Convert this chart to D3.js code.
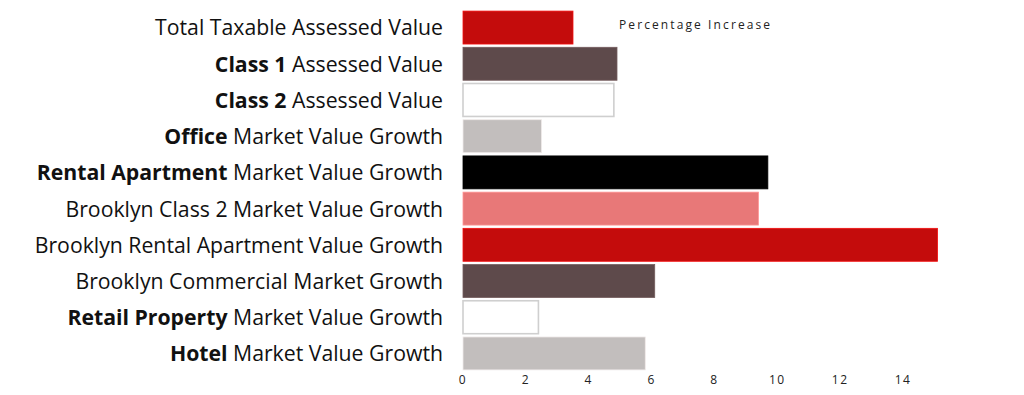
<!DOCTYPE html>
<html>
<head>
<meta charset="utf-8">
<script src="https://cdn.jsdelivr.net/npm/d3@7"></script>
<style>
  body { margin: 0; background: #fff; }
  svg text { font-family: "Open Sans", "Noto Sans", sans-serif; }
</style>
</head>
<body>
<svg id="chart" width="1024" height="395"></svg>
<script>
// bold part / regular part of each category label
const boldParts = ["", "Class 1", "Class 2", "Office", "Rental Apartment", "", "", "", "Retail Property", "Hotel"];
const plainParts = [
  "Total Taxable Assessed Value",
  "Assessed Value",
  "Assessed Value",
  "Market Value Growth",
  "Market Value Growth",
  "Brooklyn Class 2 Market Value Growth",
  "Brooklyn Rental Apartment Value Growth",
  "Brooklyn Commercial Market Growth",
  "Market Value Growth",
  "Market Value Growth"
];
const values = [3.5, 4.9, 4.8, 2.5, 9.7, 9.4, 15.1, 6.1, 2.4, 5.8];
const barColors = ["#c40c0c", "#5e4a4b", "#ffffff", "#c2bebd", "#000000", "#e87878", "#c40c0c", "#5e4a4b", "#ffffff", "#c2bebd"];
const ticks = [0, 2, 4, 6, 8, 10, 12, 14];
const axisTitle = "Percentage Increase";

const svg = d3.select("#chart");
const ids = d3.range(values.length);

const x = d3.scaleLinear().domain([0, 14]).range([463, 903]);
const y = d3.scaleBand().domain(ids).range([10, 371]).paddingInner(0.09).paddingOuter(0.03);

svg.append("g")
  .selectAll("rect")
  .data(ids)
  .join("rect")
  .attr("x", x(0))
  .attr("y", (i) => y(i))
  .attr("width", (i) => x(values[i]) - x(0))
  .attr("height", y.bandwidth())
  .attr("fill", (i) => barColors[i])
  .attr("stroke", (i) => barColors[i] === "#ffffff" ? "#cfcfcf" : d3.color(barColors[i]).brighter(0.6))
  .attr("stroke-width", (i) => barColors[i] === "#ffffff" ? 1.6 : 0.8);

// category labels
const labels = svg.append("g")
  .selectAll("text")
  .data(ids)
  .join("text")
  .attr("x", 443)
  .attr("y", (i) => y(i) + y.bandwidth() / 2)
  .attr("dy", "0.36em")
  .attr("text-anchor", "end")
  .attr("font-size", 22)
  .attr("fill", "#111");

labels.each(function (i) {
  const t = d3.select(this);
  if (boldParts[i]) {
    t.append("tspan").attr("font-weight", 700).text(boldParts[i] + " ");
  }
  t.append("tspan").text(plainParts[i]);
});
// squeeze to the narrower type of the original
labels.attr("transform", "translate(443,0) scale(0.966,1) translate(-443,0)");

// x axis tick labels
svg.append("g")
  .selectAll("text")
  .data(ticks)
  .join("text")
  .attr("x", (d) => x(d))
  .attr("y", 384)
  .attr("text-anchor", "middle")
  .attr("font-size", 12)
  .attr("letter-spacing", 1.5)
  .attr("fill", "#222")
  .text((d) => d);

svg.append("text")
  .attr("x", 619)
  .attr("y", 29)
  .attr("font-size", 12)
  .attr("letter-spacing", 2.1)
  .attr("fill", "#222")
  .text(axisTitle);
</script>
</body>
</html>
